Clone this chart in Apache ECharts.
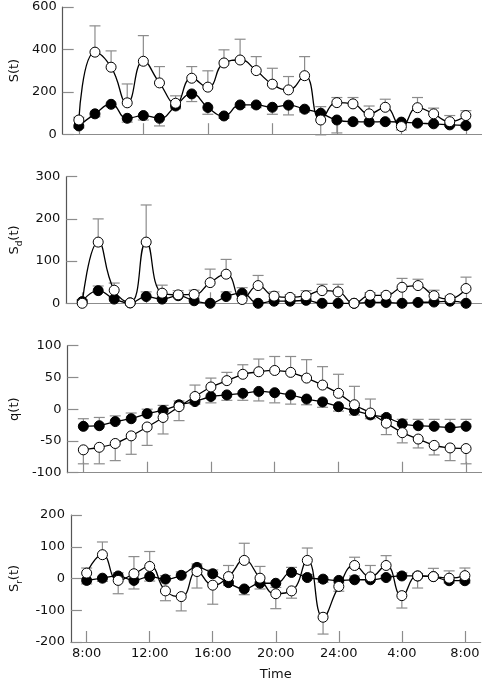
<!DOCTYPE html>
<html><head><meta charset="utf-8">
<script src="https://cdn.jsdelivr.net/npm/echarts@6/dist/echarts.min.js"></script>
<style>html,body{margin:0;padding:0;background:#fff}#c{width:482px;height:682px}</style>
</head><body><div id="c"></div>
<script>
const hours = [0,1,2,3,4,5,6,7,8,9,10,11,12,13,14,15,16,17,18,19,20,21,22,23,24];
const tickHours = [0,4,8,12,16,20,24];
const tickLabels = ['8:00','12:00','16:00','20:00','24:00','4:00','8:00'];

// Panel 1: S(t)
const S_open     = [67,387,316,148,344,242,146,264,222,336,350,300,236,209,276,67,149,143,96,127,36,125,96,59,88];
const S_open_err = [80,511,393,237,465,319,181,319,299,398,448,366,311,272,366,-3,173,173,133,165,20,173,123,88,111];
const S_fill     = [39,96,141,75,88,75,133,190,126,86,138,138,127,137,118,99,67,59,58,59,57,52,49,44,41];
const S_fill_err = [30,82,130,57,67,39,120,154,94,75,126,125,94,91,105,130,6,50,50,50,48,45,42,38,35];

// Panel 2: Sd(t)
const Sd_open     = [0,145,31,1,145,24,20,21,49,69,9,42,17,14,18,30,27,0,19,19,38,42,18,11,35];
const Sd_open_err = [8,200,48,3,233,43,30,31,81,104,12,66,27,20,30,45,45,2,25,25,59,57,31,17,62];
const Sd_fill     = [4,30,10,1,16,10,18,6,0,16,24,0,5,5,7,0,0,0,2,2,0,2,3,5,0];
const Sd_fill_err = [8,41,14,3,27,14,25,12,2,27,37,2,8,8,10,2,2,2,4,4,2,4,5,8,2];

// Panel 3: q(t)
const q_open     = [-64,-60,-54,-42,-28,-13,4,20,35,45,55,59,61,58,49,38,25,7,-6,-22,-37,-47,-57,-61,-62];
const q_open_err = [-86,-86,-81,-71,-57,-39,-18,38,49,58,70,79,83,83,78,67,55,36,16,-40,-53,-61,-72,-81,-86];
const q_fill     = [-27,-26,-19.5,-15,-7,-2,7,12,20,22.5,25,28,26,22.5,16,11.5,4,-2,-9,-13,-23,-26,-27,-29,-27];
const q_fill_err = [-15,-13,-10.5,-6,0,6,13,8,10,14,14,13,10,8,7,3,-3,-9,-15,-9,-16,-16,-16,-16,-16];

// Panel 4: Sr(t)
const Sr_open     = [17,75,-6,15,38,-39,-57,22,-21,6,57,1,-48,-39,57,-122,-25,41,5,41,-54,8,6,1,9];
const Sr_open_err = [33,115,-48,69,85,-70,-102,-30,-81,41,111,38,-95,-62,96,-175,-40,67,41,72,-93,-30,32,24,33];
const Sr_fill     = [-6,1,8,-6,6,-2,10,35,15,-13,-33,-15,-15,19,3,-2,-6,-4,-4,3,8,8,6,-7,-7];
const Sr_fill_err = [-17,-9,18,-33,-8,9,21,46,27,-22,-51,-33,-28,35,13,-12,-14,8,8,10,18,16,12,-14,-14];

const FONT = 'DejaVu Sans';
const panels = [
  {top:7,   h:127.2, min:0,    max:600, itv:200, name:'{a|S(t)}', o:S_open, oe:S_open_err, f:S_fill, fe:S_fill_err, smooth:0.5},
  {top:176.7,h:126.6,min:0,    max:300, itv:100, name:'{a|S}{b|d}{a|(t)}', o:Sd_open, oe:Sd_open_err, f:Sd_fill, fe:Sd_fill_err, smooth:0.5},
  {top:345.7,h:127,  min:-100, max:100, itv:50,  name:'{a|q(t)}', o:q_open, oe:q_open_err, f:q_fill, fe:q_fill_err, smooth:0.15},
  {top:515, h:127,   min:-200, max:200, itv:100, name:'{a|S}{b|r}{a|(t)}', o:Sr_open, oe:Sr_open_err, f:Sr_fill, fe:Sr_fill_err, smooth:0.5}
];

const grid=[], xAxis=[], yAxis=[], series=[];
function errSeries(i, vals, errs){
  return {
    type:'custom', xAxisIndex:i, yAxisIndex:i, z:1, silent:true,
    data: hours.map((h,k)=>[h, vals[k], errs[k]]),
    renderItem:function(params, api){
      const p1 = api.coord([api.value(0), api.value(1)]);
      const p2 = api.coord([api.value(0), api.value(2)]);
      const st = {stroke:'#8c8c8c', lineWidth:1.2};
      return {type:'group', children:[
        {type:'line', shape:{x1:p1[0],y1:p1[1],x2:p2[0],y2:p2[1]}, style:st},
        {type:'line', shape:{x1:p2[0]-5.5,y1:p2[1],x2:p2[0]+5.5,y2:p2[1]}, style:st}
      ]};
    }
  };
}
panels.forEach((p,i)=>{
  grid.push({left:58, right:0, top:p.top, height:p.h});
  const last = i===3;
  xAxis.push({
    type:'value', gridIndex:i, min:-1, max:25,
    axisLine:{show:true, onZero:false, lineStyle:{color:'#8c8c8c', width:1.2}},
    axisTick:{show:true, inside:true, length:11, customValues:tickHours, lineStyle:{color:'#8c8c8c', width:1.2}},
    axisLabel:{show:last, customValues:tickHours, margin:5, color:'#111', fontFamily:FONT, fontSize:13,
      formatter:function(v){const k=tickHours.indexOf(v);return k>=0?tickLabels[k]:'';}},
    splitLine:{show:false},
    name: last?'Time':'', nameLocation:'middle', nameGap:26,
    nameTextStyle:{color:'#111', fontFamily:FONT, fontSize:13}
  });
  yAxis.push({
    type:'value', gridIndex:i, min:p.min, max:p.max, interval:p.itv,
    axisLine:{show:true, onZero:false, lineStyle:{color:'#555', width:1.2}},
    axisTick:{show:true, inside:true, length:11, lineStyle:{color:'#8c8c8c', width:1.2}},
    axisLabel:{color:'#111', fontFamily:FONT, fontSize:13, margin:6},
    splitLine:{show:false},
    name:p.name, nameLocation:'middle', nameRotate:90, nameGap:36,
    nameTextStyle:{rich:{
      a:{fontFamily:FONT, fontSize:13, color:'#111', lineHeight:20},
      b:{fontFamily:FONT, fontSize:9, color:'#111', lineHeight:10, verticalAlign:'bottom'}
    }}
  });
  series.push(errSeries(i, p.f, p.fe));
  series.push(errSeries(i, p.o, p.oe));
  series.push({type:'line', xAxisIndex:i, yAxisIndex:i, z:2, smooth:p.smooth,
    data: hours.map((h,k)=>[h,p.f[k]]),
    symbol:'circle', symbolSize:10, showAllSymbol:true,
    lineStyle:{color:'#000', width:1.3},
    itemStyle:{color:'#000', borderColor:'#000', borderWidth:1}});
  series.push({type:'line', xAxisIndex:i, yAxisIndex:i, z:3, smooth:p.smooth,
    data: hours.map((h,k)=>[h,p.o[k]]),
    symbol:'circle', symbolSize:10, showAllSymbol:true,
    lineStyle:{color:'#000', width:1.3},
    itemStyle:{color:'#fff', borderColor:'#000', borderWidth:1}});
});

const chart = echarts.init(document.getElementById('c'), null, {renderer:'canvas'});
chart.setOption({animation:false, backgroundColor:'#fff', grid, xAxis, yAxis, series});
</script>
</body></html>
